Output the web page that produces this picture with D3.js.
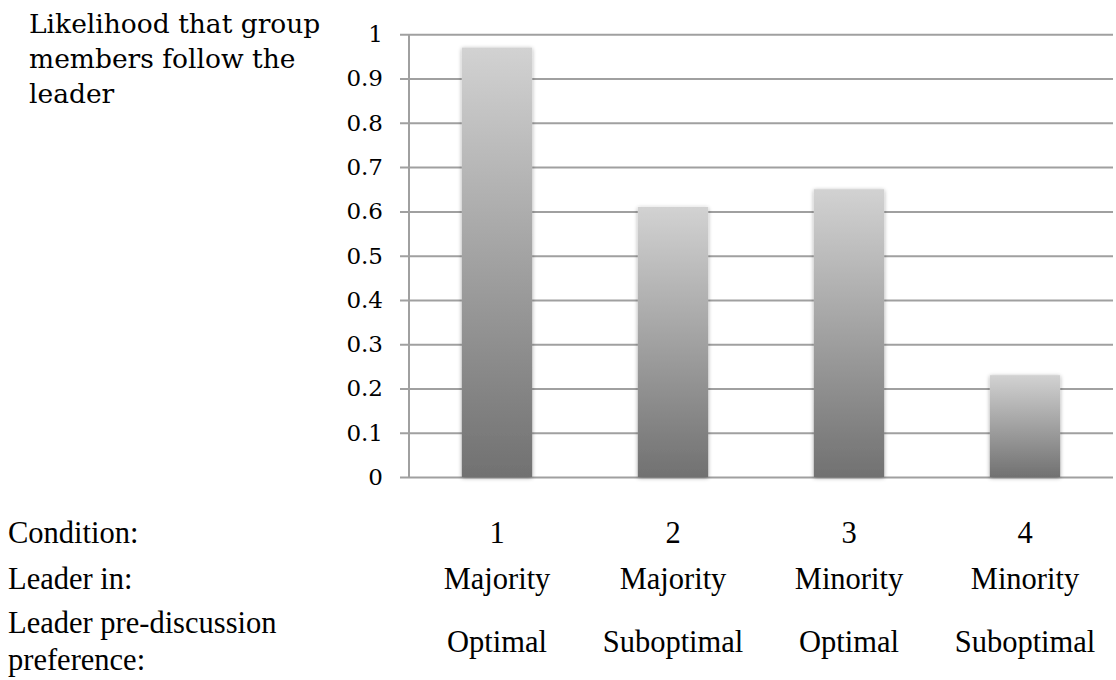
<!DOCTYPE html>
<html>
<head>
<meta charset="utf-8">
<script src="https://cdn.jsdelivr.net/npm/d3@7"></script>
<style>
  html, body { margin: 0; padding: 0; background: #fff; }
  svg { display: block; }
</style>
</head>
<body>
<svg id="chart" width="1116" height="680"></svg>
<script>
// Condition data
const conditions = ["1", "2", "3", "4"];
const leaderIn = ["Majority", "Majority", "Minority", "Minority"];
const preference = ["Optimal", "Suboptimal", "Optimal", "Suboptimal"];
const likelihood = [0.97, 0.61, 0.65, 0.23];
const yTicks = [0, 0.1, 0.2, 0.3, 0.4, 0.5, 0.6, 0.7, 0.8, 0.9, 1];
const titleLines = ["Likelihood that group", "members follow the", "leader"];
const rowLabels = ["Condition:", "Leader in:"];
const prefLabelLines = ["Leader pre-discussion", "preference:"];

const svg = d3.select("#chart");
const plot = { left: 409, right: 1113, top: 34.3, bottom: 477 };

const x = d3.scaleBand()
  .domain(conditions)
  .range([plot.left, plot.right])
  .paddingInner(0.6)
  .paddingOuter(0.3);

const y = d3.scaleLinear()
  .domain([0, 1])
  .range([plot.bottom, plot.top]);

const defs = svg.append("defs");
const grad = defs.append("linearGradient")
  .attr("id", "barFill")
  .attr("x1", 0).attr("y1", 0).attr("x2", 0).attr("y2", 1);
grad.append("stop").attr("offset", "0%").attr("stop-color", "#d2d2d2");
grad.append("stop").attr("offset", "100%").attr("stop-color", "#717171");

const shadow = defs.append("filter")
  .attr("id", "barShadow")
  .attr("x", "-20%").attr("y", "-10%").attr("width", "140%").attr("height", "120%");
shadow.append("feGaussianBlur").attr("in", "SourceAlpha").attr("stdDeviation", 2.2).attr("result", "blur");
shadow.append("feOffset").attr("in", "blur").attr("dx", 0).attr("dy", 1).attr("result", "off");
shadow.append("feComponentTransfer").attr("in", "off").attr("result", "soft")
  .append("feFuncA").attr("type", "linear").attr("slope", 0.35);
const merge = shadow.append("feMerge");
merge.append("feMergeNode").attr("in", "soft");
merge.append("feMergeNode").attr("in", "SourceGraphic");

// Gridlines with tick stubs left of the axis
const yAxis = d3.axisLeft(y)
  .tickValues(yTicks)
  .tickSize(-(plot.right - plot.left))
  .tickSizeOuter(0)
  .tickPadding(26)
  .tickFormat(d3.format("~g"));

const gAxis = svg.append("g")
  .attr("transform", `translate(${plot.left},0)`)
  .call(yAxis);
gAxis.select(".domain").remove();
gAxis.selectAll(".tick line")
  .attr("x1", -9)
  .attr("stroke", "#a0a0a0")
  .attr("stroke-width", 2);
gAxis.selectAll(".tick text")
  .attr("font-family", "'DejaVu Serif', serif")
  .attr("font-size", 23)
  .attr("fill", "#000");

// Vertical axis line
svg.append("line")
  .attr("x1", plot.left).attr("x2", plot.left)
  .attr("y1", y(1)).attr("y2", y(0))
  .attr("stroke", "#a0a0a0")
  .attr("stroke-width", 2);

// Bars
svg.append("g").selectAll("rect")
  .data(likelihood)
  .join("rect")
  .attr("x", (d, i) => x(conditions[i]))
  .attr("width", x.bandwidth())
  .attr("y", d => y(d))
  .attr("height", d => y(0) - y(d))
  .attr("fill", "url(#barFill)")
  .attr("filter", "url(#barShadow)");

// Title at upper left
svg.append("text")
  .attr("font-family", "'DejaVu Serif', serif")
  .attr("font-size", 26.5)
  .attr("fill", "#000")
  .selectAll("tspan")
  .data(titleLines)
  .join("tspan")
  .attr("x", 29)
  .attr("y", (d, i) => 33 + i * 35)
  .text(d => d);

// Category rows below the axis
const serif = "'Liberation Serif', 'Times New Roman', serif";
const rowFont = 30.5;
const rows = [
  { values: conditions, baseline: 543 },
  { values: leaderIn, baseline: 589 },
  { values: preference, baseline: 652 }
];
rows.forEach(r => {
  svg.append("g").selectAll("text")
    .data(r.values)
    .join("text")
    .attr("x", (d, i) => x(conditions[i]) + x.bandwidth() / 2)
    .attr("y", r.baseline)
    .attr("text-anchor", "middle")
    .attr("font-family", serif)
    .attr("font-size", rowFont)
    .attr("fill", "#000")
    .text(d => d);
});

svg.append("g").selectAll("text")
  .data(rowLabels)
  .join("text")
  .attr("x", 8)
  .attr("y", (d, i) => [543, 589][i])
  .attr("font-family", serif)
  .attr("font-size", rowFont)
  .attr("fill", "#000")
  .text(d => d);

svg.append("text")
  .attr("font-family", serif)
  .attr("font-size", rowFont)
  .attr("fill", "#000")
  .selectAll("tspan")
  .data(prefLabelLines)
  .join("tspan")
  .attr("x", 8)
  .attr("y", (d, i) => 633 + i * 37)
  .text(d => d);
</script>
</body>
</html>
